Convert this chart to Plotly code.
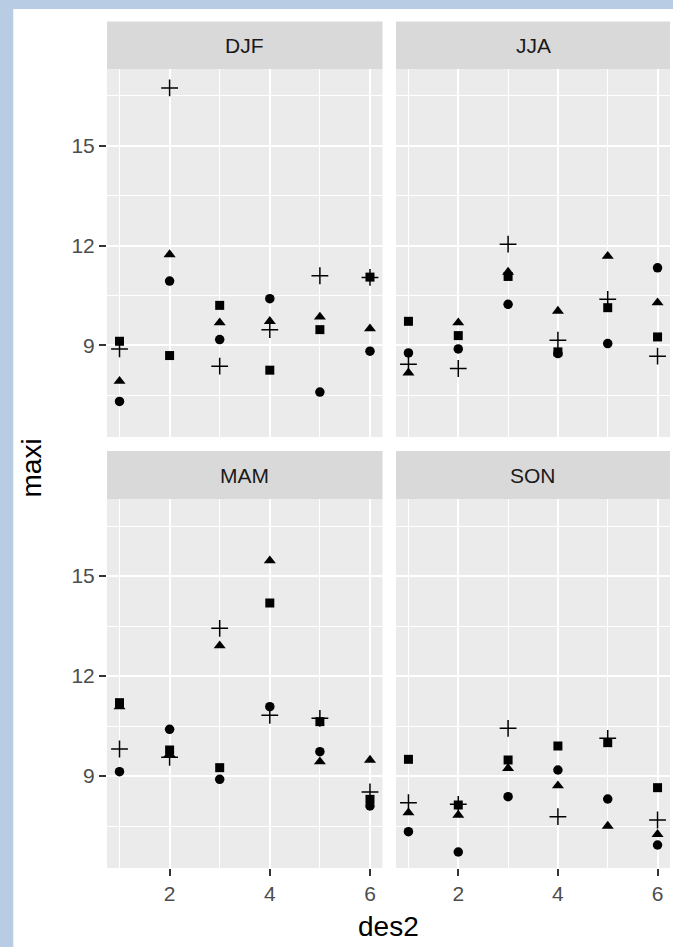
import plotly.graph_objects as go

W, H = 673, 947

des2 = [1, 2, 3, 4, 5, 6]
panels = ["DJF", "JJA", "MAM", "SON"]

# values per panel, per shape group (circle, triangle, square, cross)
circle = {
    "DJF": [7.31, 10.93, 9.17, 10.40, 7.59, 8.82],
    "JJA": [8.77, 8.89, 10.23, 8.75, 9.05, 11.33],
    "MAM": [9.13, 10.40, 8.90, 11.08, 9.73, 8.10],
    "SON": [7.33, 6.72, 8.38, 9.18, 8.31, 6.93],
}
triangle = {
    "DJF": [7.92, 11.73, 9.68, 9.72, 9.85, 9.50],
    "JJA": [8.17, 9.68, 11.20, 10.03, 11.68, 10.28],
    "MAM": [11.08, 9.65, 12.91, 15.46, 9.43, 9.48],
    "SON": [7.90, 7.83, 9.23, 8.71, 7.50, 7.25],
}
square = {
    "DJF": [9.12, 8.69, 10.20, 8.25, 9.47, 11.05],
    "JJA": [9.72, 9.29, 11.07, 8.80, 10.13, 9.25],
    "MAM": [11.20, 9.78, 9.25, 14.19, 10.63, 8.30],
    "SON": [9.50, 8.13, 9.48, 9.90, 10.00, 8.65],
}
cross = {
    "DJF": [8.89, 16.74, 8.37, 9.47, 11.09, 11.04],
    "JJA": [8.43, 8.30, 12.04, 9.15, 10.38, 8.67],
    "MAM": [9.81, 9.56, 13.43, 10.82, 10.73, 8.52],
    "SON": [8.20, 8.15, 10.43, 7.78, 10.13, 7.68],
}

x_ticks = [2, 4, 6]
x_minor = [1, 3, 5]
y_ticks = [9, 12, 15]
y_minor = [7.5, 10.5, 13.5, 16.5]
x_range = [0.75, 6.25]
y_range = [6.24, 17.31]

FONT = "Liberation Sans, Arial, sans-serif"
FRAME = "#B8CCE4"

def px(x):
    return x / W

def py(y):
    return 1 - y / H

# panel pixel boxes
cols = [(107.0, 382.5), (396.0, 670.0)]
rows = [(69.0, 437.0), (499.0, 868.0)]
strips = [(21.5, 69.0), (451.0, 499.0)]

fig = go.Figure()

groups = [
    (circle, dict(symbol="circle", size=9.5, color="black")),
    (triangle, dict(symbol="triangle-up", size=10.5, color="black")),
    (square, dict(symbol="square", size=9, color="black")),
    (cross, dict(symbol="cross-thin", size=12, color="black",
                 line=dict(color="black", width=1.5))),
]

layout = {}
shapes = [
    # blue window frame on the left and top edges
    dict(type="rect", xref="paper", yref="paper", x0=0, x1=px(13.3),
         y0=0.0, y1=1.0, fillcolor=FRAME, line=dict(width=0), layer="below"),
    dict(type="rect", xref="paper", yref="paper", x0=0, x1=1.0,
         y0=py(9), y1=1.0, fillcolor=FRAME, line=dict(width=0), layer="below"),
]
annotations = []

for i, p in enumerate(panels):
    r, c = divmod(i, 2)
    n = "" if i == 0 else str(i + 1)
    for data, mk in groups:
        fig.add_trace(go.Scatter(x=des2, y=data[p], mode="markers",
                                 marker=mk, xaxis="x" + n, yaxis="y" + n,
                                 showlegend=False, cliponaxis=False))
    x0, x1 = cols[c]
    y0, y1 = rows[r]
    show_x = r == 1
    show_y = c == 0
    layout["xaxis" + n] = dict(
        domain=[px(x0), px(x1)], range=x_range, anchor="y" + n,
        tickmode="array", tickvals=x_ticks, ticktext=[str(v) for v in x_ticks],
        showticklabels=show_x, ticks="outside" if show_x else "",
        ticklen=7, tickwidth=1.5, tickcolor="#333333",
        tickfont=dict(family=FONT, size=21, color="#4D4D4D"),
        showgrid=True, gridcolor="white", gridwidth=2.2, zeroline=False,
        showline=False,
        minor=dict(tickmode="array", tickvals=x_minor, showgrid=True,
                   gridcolor="white", gridwidth=1.1, ticks=""),
    )
    layout["yaxis" + n] = dict(
        domain=[py(y1), py(y0)], range=y_range, anchor="x" + n,
        tickmode="array", tickvals=y_ticks, ticktext=[str(v) for v in y_ticks],
        showticklabels=show_y, ticks="outside" if show_y else "",
        ticklen=7, tickwidth=1.5, tickcolor="#333333",
        tickfont=dict(family=FONT, size=21, color="#4D4D4D"),
        showgrid=True, gridcolor="white", gridwidth=2.2, zeroline=False,
        showline=False,
        minor=dict(tickmode="array", tickvals=y_minor, showgrid=True,
                   gridcolor="white", gridwidth=1.1, ticks=""),
    )
    s0, s1 = strips[r]
    shapes.append(dict(type="rect", xref="paper", yref="paper",
                       x0=px(x0), x1=px(x1), y0=py(s1), y1=py(s0),
                       fillcolor="#D9D9D9", line=dict(width=0), layer="below"))
    annotations.append(dict(text=p, xref="paper", yref="paper",
                            x=px((x0 + x1) / 2), y=py((s0 + s1) / 2),
                            xanchor="center", yanchor="middle", showarrow=False,
                            font=dict(family=FONT, size=21, color="#1A1A1A")))

annotations.append(dict(text="des2", xref="paper", yref="paper",
                        x=px(388.5), y=py(926), xanchor="center", yanchor="middle",
                        showarrow=False, font=dict(family=FONT, size=28, color="black")))
annotations.append(dict(text="maxi", xref="paper", yref="paper",
                        x=px(31), y=py(468.5), xanchor="center", yanchor="middle",
                        textangle=-90, showarrow=False,
                        font=dict(family=FONT, size=28, color="black")))

fig.update_layout(
    width=W, height=H, margin=dict(l=0, r=0, t=0, b=0),
    paper_bgcolor="white", plot_bgcolor="#EBEBEB",
    shapes=shapes, annotations=annotations, **layout,
)

fig.write_html(
    "out.html",
    config={"displayModeBar": False},
    post_script="document.body.style.margin='0';document.body.style.padding='0';"
                "document.body.style.overflow='hidden';",
)
